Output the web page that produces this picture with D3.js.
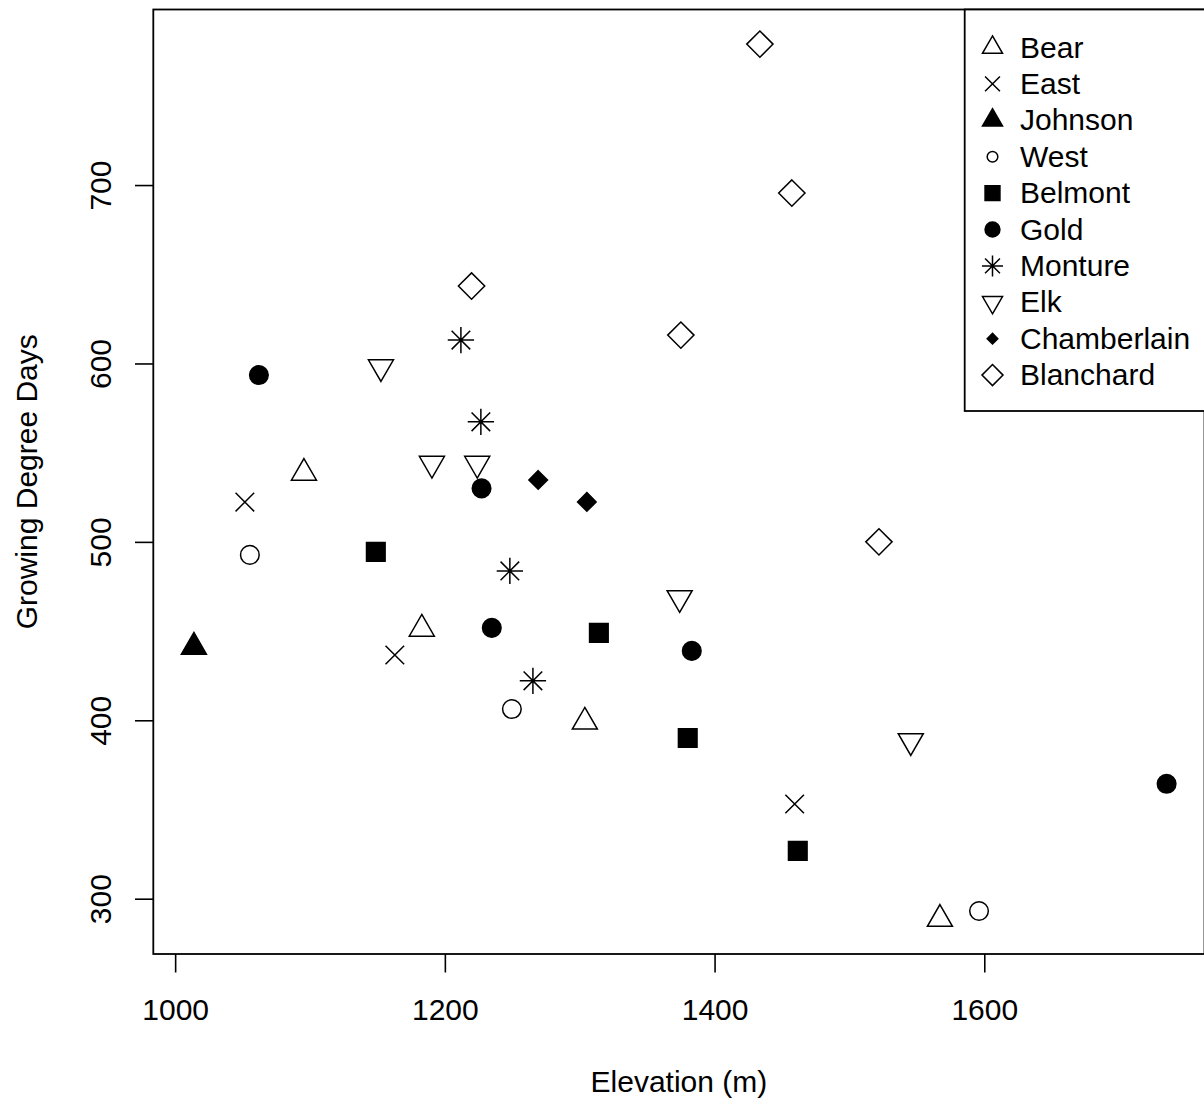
<!DOCTYPE html>
<html>
<head>
<meta charset="utf-8">
<script src="https://cdn.jsdelivr.net/npm/d3@7"></script>
<style>
  body { margin: 0; background: #fff; }
  text { font-family: 'Liberation Sans', Arial, Helvetica, sans-serif; fill: #000; }
</style>
</head>
<body>
<div id="chart"></div>
<script>
// sites in legend order
const sites = ['Bear', 'East', 'Johnson', 'West', 'Belmont', 'Gold', 'Monture', 'Elk', 'Chamberlain', 'Blanchard'];
const siteShape = ['triUp', 'cross', 'triUpFill', 'circle', 'square', 'circleFill', 'asterisk', 'triDown', 'diamondSmall', 'diamond'];
const legendScale = [0.8, 0.8, 0.8, 0.57, 0.8, 0.8, 0.8, 0.8, 0.57, 0.8];

// one entry per point
const pointSite = [
  'Bear', 'Bear', 'Bear', 'Bear',
  'East', 'East', 'East',
  'Johnson',
  'West', 'West', 'West',
  'Belmont', 'Belmont', 'Belmont', 'Belmont',
  'Gold', 'Gold', 'Gold', 'Gold', 'Gold',
  'Monture', 'Monture', 'Monture', 'Monture',
  'Elk', 'Elk', 'Elk', 'Elk', 'Elk',
  'Chamberlain', 'Chamberlain',
  'Blanchard', 'Blanchard', 'Blanchard', 'Blanchard', 'Blanchard'
];
const elevation = [
  1095.5, 1182.9, 1303.8, 1567.1,
  1051.7, 1162.9, 1459.4,
  1013.9,
  1055.4, 1249.7, 1596.1,
  1148.8, 1314.2, 1380.1, 1461.7,
  1062.1, 1227.2, 1234.8, 1383.1, 1735.2,
  1211.9, 1226.7, 1248.2, 1265.3,
  1152.6, 1190.4, 1224.0, 1374.1, 1545.5,
  1269.2, 1305.3,
  1219.8, 1433.6, 1457.3, 1375.0, 1521.9
];
const gdd = [
  538.6, 451.2, 399.1, 288.6,
  522.3, 436.6, 353.1,
  441.1,
  492.7, 406.3, 293.1,
  494.4, 449.0, 390.1, 326.8,
  593.5, 530.0, 451.8, 438.9, 364.4,
  613.1, 567.3, 483.7, 422.1,
  598.0, 543.9, 543.9, 468.6, 388.4,
  534.7, 522.4,
  643.4, 779.0, 695.5, 615.9, 500.0
];

const xTicks = [1000, 1200, 1400, 1600];
const yTicks = [300, 400, 500, 600, 700];

const width = 1204, height = 1104;
const mLeft = 153.3, mRight = 1204.5, mTop = 9.5, mBottom = 954;
const R = 9.3;
const fontSize = '30px';

const x = d3.scaleLinear().domain([983.8, 1763.3]).range([mLeft, mRight]);
const y = d3.scaleLinear().domain([269.0, 798.4]).range([mBottom, mTop]);

const svg = d3.select('#chart').append('svg')
  .attr('width', width)
  .attr('height', height)
  .style('background', '#fff');

// R pch-like symbols
function symbol(shape, s) {
  const p = d3.path();
  const r = 1.5551 * s, yc = 0.7776 * s, w = 1.3468 * s, d = Math.SQRT2 * s;
  switch (shape) {
    case 'triUp': case 'triUpFill':
      p.moveTo(0, -r); p.lineTo(w, yc); p.lineTo(-w, yc); p.closePath(); break;
    case 'triDown':
      p.moveTo(0, r); p.lineTo(w, -yc); p.lineTo(-w, -yc); p.closePath(); break;
    case 'cross':
      p.moveTo(-s, -s); p.lineTo(s, s); p.moveTo(-s, s); p.lineTo(s, -s); break;
    case 'circle': case 'circleFill':
      p.moveTo(s, 0); p.arc(0, 0, s, 0, 2 * Math.PI); break;
    case 'square':
      p.rect(-s, -s, 2 * s, 2 * s); break;
    case 'asterisk':
      p.moveTo(-s, -s); p.lineTo(s, s); p.moveTo(-s, s); p.lineTo(s, -s);
      p.moveTo(-d, 0); p.lineTo(d, 0); p.moveTo(0, -d); p.lineTo(0, d); break;
    case 'diamondSmall':
      p.moveTo(0, -s); p.lineTo(s, 0); p.lineTo(0, s); p.lineTo(-s, 0); p.closePath(); break;
    case 'diamond':
      p.moveTo(0, -d); p.lineTo(d, 0); p.lineTo(0, d); p.lineTo(-d, 0); p.closePath(); break;
  }
  return p.toString();
}
const filled = shape => ['triUpFill', 'circleFill', 'square', 'diamondSmall'].includes(shape);

// axes
const xAxis = svg.append('g')
  .attr('transform', `translate(0, ${mBottom})`)
  .call(d3.axisBottom(x).tickValues(xTicks).tickFormat(d3.format('d')).tickSize(18.5).tickSizeOuter(0));
xAxis.select('.domain').remove();
xAxis.selectAll('line').attr('stroke-width', 1.6);
xAxis.selectAll('text')
  .attr('y', 66).attr('dy', 0)
  .style('font-size', fontSize);
xAxis.attr('font-family', null).attr('font-size', null);

const yAxis = svg.append('g')
  .attr('transform', `translate(${mLeft}, 0)`)
  .call(d3.axisLeft(y).tickValues(yTicks).tickFormat(d3.format('d')).tickSize(18.3).tickSizeOuter(0));
yAxis.select('.domain').remove();
yAxis.selectAll('line').attr('stroke-width', 1.6);
yAxis.selectAll('text')
  .attr('x', 0).attr('dy', 0)
  .attr('text-anchor', 'middle')
  .attr('transform', `translate(${111 - mLeft}, 0) rotate(-90)`)
  .style('font-size', fontSize);
yAxis.attr('font-family', null).attr('font-size', null);

// plot box
svg.append('rect')
  .attr('x', mLeft).attr('y', mTop)
  .attr('width', mRight - mLeft).attr('height', mBottom - mTop)
  .attr('fill', 'none').attr('stroke', '#000').attr('stroke-width', 1.8);

// points
svg.append('g').selectAll('path')
  .data(pointSite.map((s, i) => ({ site: s, ev: elevation[i], g: gdd[i] })))
  .enter().append('path')
  .attr('transform', d => `translate(${x(d.ev)}, ${y(d.g)})`)
  .attr('d', d => symbol(siteShape[sites.indexOf(d.site)], R))
  .attr('fill', d => filled(siteShape[sites.indexOf(d.site)]) ? '#000' : 'none')
  .attr('stroke', '#000')
  .attr('stroke-width', 1.5);

// legend
const legTop = 9.5, legBottom = 411, legLeft = 964.7;
svg.append('rect')
  .attr('x', legLeft).attr('y', legTop)
  .attr('width', 260).attr('height', legBottom - legTop)
  .attr('fill', '#fff').attr('stroke', '#000').attr('stroke-width', 1.8);

const rowY = i => 47.5 + i * 36.4;
const leg = svg.append('g').selectAll('g')
  .data(sites)
  .enter().append('g')
  .attr('transform', (d, i) => `translate(0, ${rowY(i)})`);
leg.append('path')
  .attr('transform', 'translate(992.5, 0)')
  .attr('d', (d, i) => symbol(siteShape[i], R * legendScale[i]))
  .attr('fill', (d, i) => filled(siteShape[i]) ? '#000' : 'none')
  .attr('stroke', '#000')
  .attr('stroke-width', 1.5);
leg.append('text')
  .attr('x', 1020)
  .attr('y', 10)
  .style('font-size', fontSize)
  .text(d => d);

// axis titles
svg.append('text')
  .attr('x', (mLeft + mRight) / 2)
  .attr('y', 1092)
  .attr('text-anchor', 'middle')
  .style('font-size', fontSize)
  .text('Elevation (m)');

svg.append('text')
  .attr('transform', `translate(36.5, ${(mTop + mBottom) / 2}) rotate(-90)`)
  .attr('text-anchor', 'middle')
  .style('font-size', fontSize)
  .text('Growing Degree Days');
</script>
</body>
</html>
